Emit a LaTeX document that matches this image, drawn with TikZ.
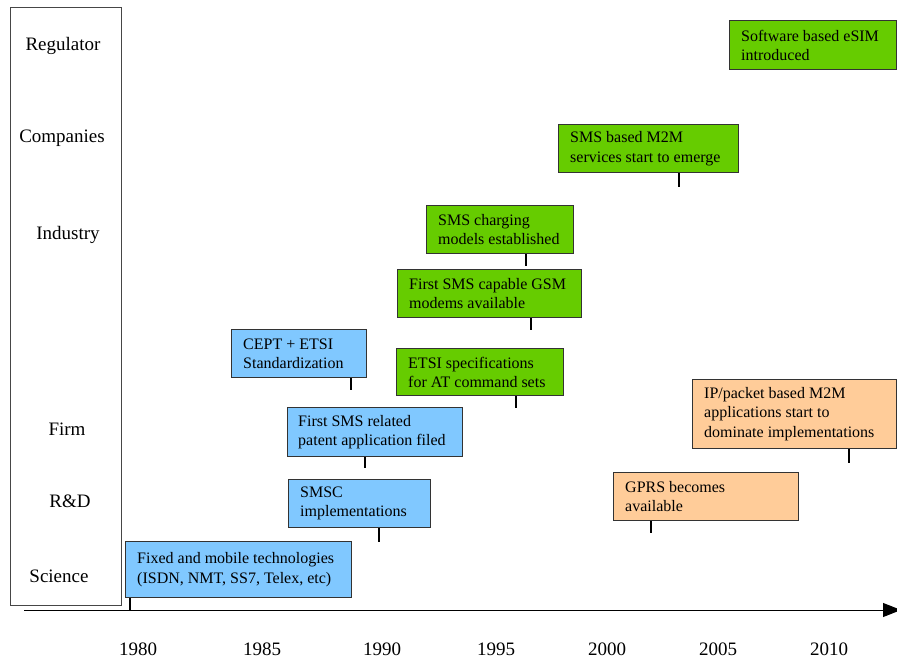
\documentclass[tikz,border=0pt]{standalone}
\usepackage{fontspec}
\setmainfont{Liberation Serif}
\usetikzlibrary{arrows.meta}
\definecolor{evblue}{RGB}{128,200,255}
\definecolor{evgreen}{RGB}{102,204,0}
\definecolor{evorange}{RGB}{255,204,153}
\definecolor{evborder}{RGB}{51,51,51}
\definecolor{framec}{RGB}{70,70,70}
\begin{document}
\begin{tikzpicture}[x=1pt,y=-1pt,
  evbox/.style={draw=evborder, line width=1.2pt, anchor=north west, inner sep=0pt},
  evtext/.style={anchor=west, align=left, inner sep=0pt, font=\fontsize{16}{19.2}\selectfont},
  rowlabel/.style={font=\fontsize{19}{23}\selectfont, inner sep=0pt},
  yearlabel/.style={font=\fontsize{19}{23}\selectfont, inner sep=0pt},
  ticker/.style={line width=2pt, black}
]
\useasboundingbox (0,0) rectangle (897,658);
\clip (0,0) rectangle (897,658);

% left frame with row labels
\node[draw=framec, line width=1pt, anchor=north west, inner sep=0pt, minimum width=111pt, minimum height=598pt] (frame) at (10,7) {};
\node[rowlabel] (lreg) at (63,46) {Regulator};
\node[rowlabel] (lcomp) at (62,138) {Companies};
\node[rowlabel] (lind) at (68,235) {Industry};
\node[rowlabel] (lfirm) at (67,429) {Firm};
\node[rowlabel] (lrd) at (70,501) {R\&D};
\node[rowlabel] (lsci) at (59,576) {Science};

% time axis
\coordinate (axs) at (24,610);
\coordinate (axe) at (901,610);
\draw[line width=1pt, -{Triangle[length=18pt,width=14pt]}] (axs) -- (axe);

% years
\node[yearlabel] (y1980) at (138,649) {1980};
\node[yearlabel] (y1985) at (262,649) {1985};
\node[yearlabel] (y1990) at (382,649) {1990};
\node[yearlabel] (y1995) at (496,649) {1995};
\node[yearlabel] (y2000) at (607,649) {2000};
\node[yearlabel] (y2005) at (718,649) {2005};
\node[yearlabel] (y2010) at (829,649) {2010};

% blue events
\node[evbox, fill=evblue, minimum width=226pt, minimum height=56pt] (fixed) at (125,541) {};
\node[evtext] (fixedt) at ([xshift=12pt]fixed.west) {Fixed and mobile technologies\\(ISDN, NMT, SS7, Telex, etc)};
\draw[ticker] ([xshift=5pt]fixed.south west) -- ++(0,13);

\node[evbox, fill=evblue, minimum width=142pt, minimum height=48pt] (smsc) at (288,479) {};
\node[evtext] (smsct) at ([xshift=12pt]smsc.west) {SMSC\\implementations};
\draw[ticker] ([xshift=91pt]smsc.south west) -- ++(0,14);

\node[evbox, fill=evblue, minimum width=175pt, minimum height=49pt] (patent) at (287,407) {};
\node[evtext] (patentt) at ([xshift=11pt]patent.west) {First SMS related\\patent application filed};
\draw[ticker] ([xshift=78pt]patent.south west) -- ++(0,11);

\node[evbox, fill=evblue, minimum width=135pt, minimum height=48pt] (cept) at (231,329) {};
\node[evtext] (ceptt) at ([xshift=12pt]cept.west) {CEPT + ETSI\\Standardization};
\draw[ticker] ([xshift=120pt]cept.south west) -- ++(0,12);

% green events
\node[evbox, fill=evgreen, minimum width=167pt, minimum height=47pt] (etsi) at (396,348) {};
\node[evtext] (etsit) at ([xshift=12pt]etsi.west) {ETSI specifications\\for AT command sets};
\draw[ticker] ([xshift=120pt]etsi.south west) -- ++(0,12);

\node[evbox, fill=evgreen, minimum width=184pt, minimum height=48pt] (modems) at (397,269) {};
\node[evtext] (modemst) at ([xshift=12pt]modems.west) {First SMS capable GSM\\modems available};
\draw[ticker] ([xshift=134pt]modems.south west) -- ++(0,12);

\node[evbox, fill=evgreen, minimum width=147pt, minimum height=48pt] (charging) at (426,205) {};
\node[evtext] (chargingt) at ([xshift=12pt]charging.west) {SMS charging\\models established};
\draw[ticker] ([xshift=100pt]charging.south west) -- ++(0,12);

\node[evbox, fill=evgreen, minimum width=180pt, minimum height=48pt] (m2m) at (558,124) {};
\node[evtext] (m2mt) at ([xshift=12pt]m2m.west) {SMS based M2M\\services start to emerge};
\draw[ticker] ([xshift=121pt]m2m.south west) -- ++(0,14);

\node[evbox, fill=evgreen, minimum width=167pt, minimum height=49pt] (esim) at (729,20) {};
\node[evtext] (esimt) at ([xshift=12pt]esim.west) {Software based eSIM\\introduced};

% orange events
\node[evbox, fill=evorange, minimum width=204pt, minimum height=69pt] (ip) at (692,379) {};
\node[evtext] (ipt) at ([xshift=12pt]ip.west) {IP/packet based M2M\\applications start to\\dominate implementations};
\draw[ticker] ([xshift=157pt]ip.south west) -- ++(0,14);

\node[evbox, fill=evorange, minimum width=185pt, minimum height=48pt] (gprs) at (613,472) {};
\node[evtext] (gprst) at ([xshift=12pt]gprs.west) {GPRS becomes\\available};
\draw[ticker] ([xshift=38pt]gprs.south west) -- ++(0,12);
\end{tikzpicture}
\end{document}
